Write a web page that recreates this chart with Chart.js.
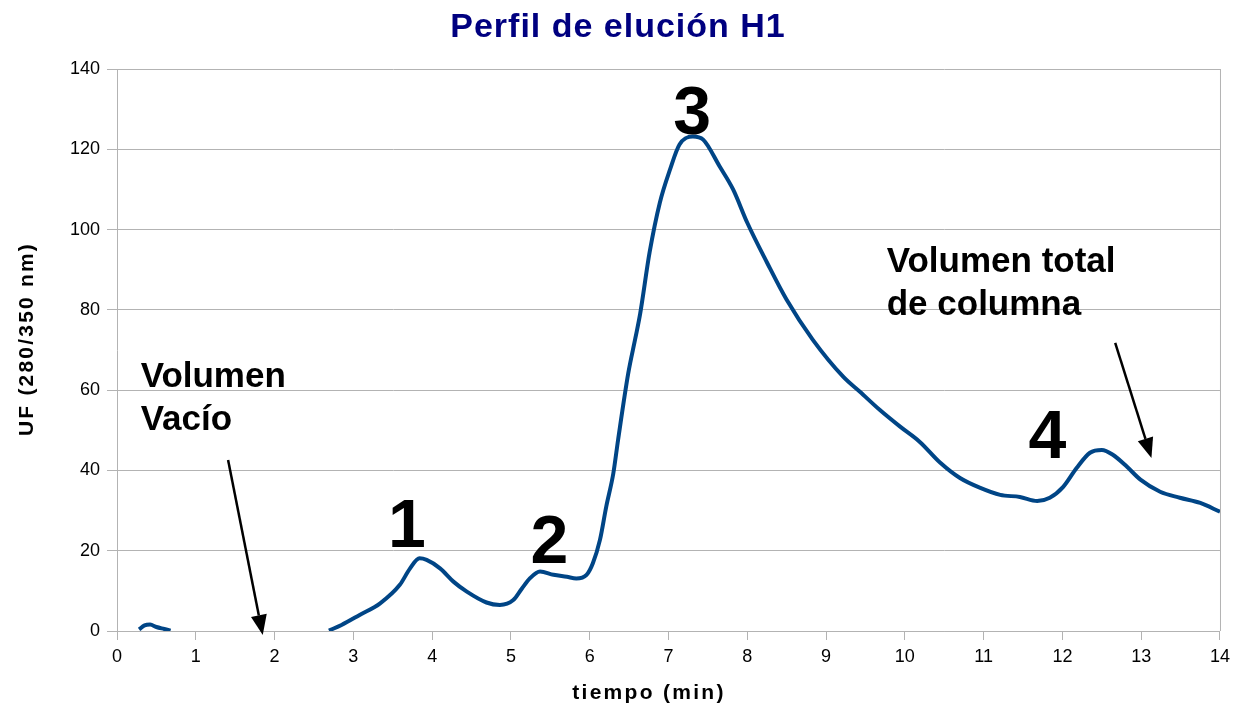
<!DOCTYPE html>
<html>
<head>
<meta charset="utf-8">
<script src="https://cdn.jsdelivr.net/npm/chart.js@4"></script>
<style>
  body { margin: 0; background: #fff; }
  canvas { display: block; }
</style>
</head>
<body>
<canvas id="perfilChart" width="1236" height="709"></canvas>
<script>
const tiempo = [0.28, 0.35, 0.42, 0.50, 0.60, 0.68, 1.5,
  2.69, 2.85, 3.08, 3.34, 3.59, 3.72, 3.84, 3.93, 4.10, 4.27, 4.44, 4.69, 4.86,
  5.03, 5.14, 5.24, 5.37, 5.54, 5.71, 5.83, 5.96, 6.04, 6.13, 6.21, 6.30, 6.36,
  6.49, 6.58, 6.64, 6.76, 6.89, 7.02, 7.14, 7.31, 7.44, 7.65, 7.82, 8.00, 8.25, 8.50,
  8.83, 9.22, 9.43, 9.68, 9.94, 10.19, 10.45, 10.70, 10.95, 11.21, 11.46, 11.68,
  11.84, 12.01, 12.18, 12.35, 12.50, 12.64, 12.82, 12.99, 13.24, 13.49, 13.75, 14.0];
const uf = [0.4, 1.4, 1.6, 1.0, 0.5, 0.1, null,
  0.1, 1.5, 4.0, 6.9, 11.5, 15.6, 18.1, 17.7, 15.6, 12.3, 9.8, 7.1, 6.5,
  7.7, 10.6, 13.1, 14.8, 14.0, 13.5, 13.1, 14.0, 16.9, 22.7, 31.0, 39.3, 47.6,
  64.3, 73.0, 79.0, 94.3, 106.7, 115.0, 121.2, 123.2, 122.4, 115.7, 110.0, 101.7, 91.8, 82.5,
  72.6, 63.3, 59.6, 55.1, 50.9, 47.1, 41.9, 38.1, 35.7, 33.9, 33.4, 32.4,
  33.2, 35.9, 40.6, 44.4, 45.1, 43.9, 40.9, 37.7, 34.7, 33.2, 31.9, 29.7];

const ticksX = [0, 1, 2, 3, 4, 5, 6, 7, 8, 9, 10, 11, 12, 13, 14];
const ticksY = [0, 20, 40, 60, 80, 100, 120, 140];

// etiquetas de los picos y flechas (en unidades de datos)
const picos = ['1', '2', '3', '4'];
const picosX = [3.68, 5.49, 7.30, 11.81];
const picosY = [20.9, 17.0, 123.7, 43.1];

const notas = [['Volumen', 'Vacío'], ['Volumen total', 'de columna']];
const notasX = [0.30, 9.77];
const notasY = [60.8, 89.5];

const flechas = [[1.41, 42.6, 1.85, -1.0], [12.67, 71.8, 13.13, 43.1]];

const puntos = tiempo.map((t, i) => ({ x: t, y: uf[i] }));

const FONT = '"Liberation Sans", Arial, sans-serif';

function flecha(ctx, x1, y1, x2, y2) {
    const ang = Math.atan2(y2 - y1, x2 - x1);
    const largo = 20, ancho = 8;
    const bx = x2 - largo * Math.cos(ang);
    const by = y2 - largo * Math.sin(ang);
    ctx.beginPath();
    ctx.moveTo(x1, y1);
    ctx.lineTo(bx, by);
    ctx.lineWidth = 2.5;
    ctx.strokeStyle = '#000';
    ctx.stroke();
    ctx.beginPath();
    ctx.moveTo(x2, y2);
    ctx.lineTo(bx + ancho * Math.sin(ang), by - ancho * Math.cos(ang));
    ctx.lineTo(bx - ancho * Math.sin(ang), by + ancho * Math.cos(ang));
    ctx.closePath();
    ctx.fillStyle = '#000';
    ctx.fill();
}

const textos = {
    id: 'textos',
    afterDraw(chart) {
        const ctx = chart.ctx;
        const xs = chart.scales.x, ys = chart.scales.y;
        const area = chart.chartArea;

        // marco derecho
        ctx.save();
        ctx.strokeStyle = '#b3b3b3';
        ctx.lineWidth = 1;
        ctx.beginPath();
        ctx.moveTo(area.right + 0.5, area.top);
        ctx.lineTo(area.right + 0.5, area.bottom);
        ctx.stroke();

        // titulo
        ctx.fillStyle = '#000080';
        ctx.font = 'bold 34px ' + FONT;
        ctx.letterSpacing = '1px';
        ctx.textAlign = 'center';
        ctx.textBaseline = 'alphabetic';
        ctx.fillText('Perfil de elución H1', 618, 37);

        // titulos de ejes
        ctx.fillStyle = '#000';
        ctx.font = 'bold 21px ' + FONT;
        ctx.letterSpacing = '2.3px';
        ctx.fillText('tiempo (min)', 649, 699);
        ctx.save();
        ctx.translate(33, 339);
        ctx.rotate(-Math.PI / 2);
        ctx.letterSpacing = '2.2px';
        ctx.fillText('UF (280/350 nm)', 0, 0);
        ctx.restore();

        // numeros de picos
        ctx.letterSpacing = '0px';
        ctx.font = 'bold 68px ' + FONT;
        picos.forEach((p, i) => {
            ctx.fillText(p, xs.getPixelForValue(picosX[i]), ys.getPixelForValue(picosY[i]));
        });

        // notas
        ctx.font = 'bold 35px ' + FONT;
        ctx.textAlign = 'left';
        notas.forEach((lineas, i) => {
            const x = xs.getPixelForValue(notasX[i]);
            const y = ys.getPixelForValue(notasY[i]);
            lineas.forEach((l, j) => ctx.fillText(l, x, y + j * 43));
        });

        // flechas
        flechas.forEach(f => {
            flecha(ctx, xs.getPixelForValue(f[0]), ys.getPixelForValue(f[1]),
                xs.getPixelForValue(f[2]), ys.getPixelForValue(f[3]));
        });
        ctx.restore();
    }
};

const ctx = document.getElementById('perfilChart').getContext('2d');
const chart = new Chart(ctx, {
    type: 'line',
    data: {
        datasets: [{
            label: 'UF',
            data: puntos,
            borderColor: '#004586',
            borderWidth: 4,
            pointRadius: 0,
            fill: false,
            cubicInterpolationMode: 'monotone',
            spanGaps: false
        }]
    },
    options: {
        responsive: false,
        animation: false,
        devicePixelRatio: 1,
        layout: { padding: { top: 69, right: 16, left: 0, bottom: 0 } },
        plugins: {
            legend: { display: false },
            title: { display: false },
            tooltip: { enabled: false }
        },
        scales: {
            x: {
                type: 'linear',
                min: 0,
                max: 14,
                afterBuildTicks: s => { s.ticks = ticksX.map(v => ({ value: v })); },
                afterFit: s => { s.height = 78; },
                ticks: { color: '#000', font: { family: FONT, size: 18 }, padding: 6, maxRotation: 0 },
                grid: { drawOnChartArea: false, tickLength: 9, color: '#b3b3b3' },
                border: { color: '#b3b3b3' }
            },
            y: {
                min: 0,
                max: 140,
                afterBuildTicks: s => { s.ticks = ticksY.map(v => ({ value: v })); },
                afterFit: s => { s.width = 117; },
                ticks: { color: '#000', font: { family: FONT, size: 18 }, padding: 7 },
                grid: { tickLength: 10, color: '#b3b3b3' },
                border: { color: '#b3b3b3' }
            }
        }
    },
    plugins: [textos]
});
</script>
</body>
</html>
